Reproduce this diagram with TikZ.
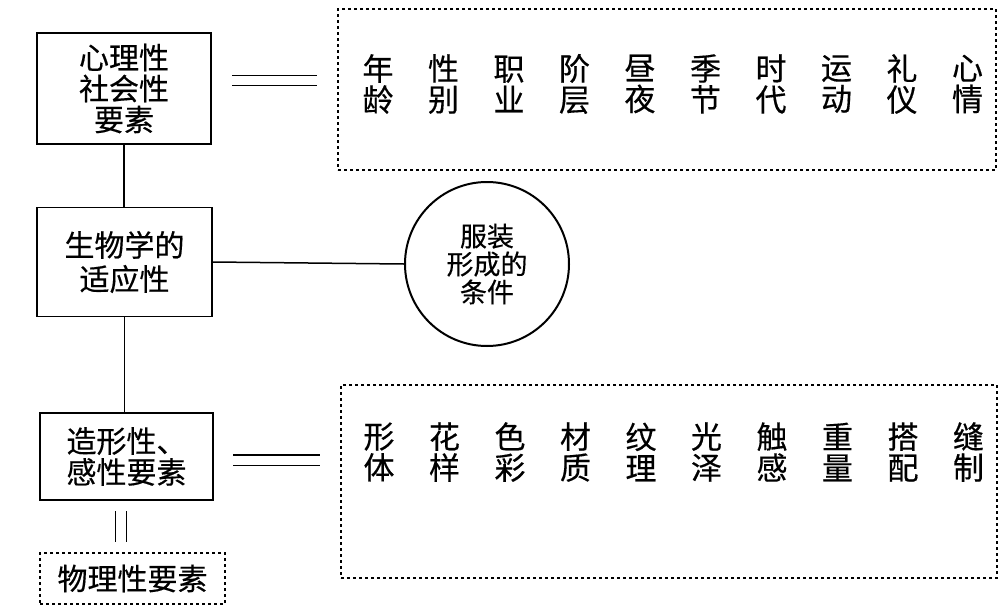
\documentclass[tikz,border=0pt]{standalone}
\usepackage{fontspec}
\setmainfont{Noto Sans CJK SC}[FakeBold=0.4]
\begin{document}
\begin{tikzpicture}[x=1pt,y=-1pt,line width=1.5pt,
  box/.style={draw,rectangle,inner sep=0pt,align=center,font=\fontsize{30}{31}\selectfont},
  dbox/.style={draw,rectangle,inner sep=0pt,align=center,dash pattern=on 3pt off 3pt,line width=1.3pt},
  col/.style={inner sep=0pt,align=center,font=\fontsize{31}{31}\selectfont},
  link/.style={line width=1.5pt},
  eq/.style={double,double distance=9pt,line width=1.4pt}]
\useasboundingbox (0,0) rectangle (999,608);
% left column boxes
\node[box,minimum width=174pt,minimum height=111pt] (b1) at (124,88.5) {心理性\\社会性\\要素};
\node[box,minimum width=175pt,minimum height=109pt,font=\fontsize{30}{34}\selectfont] (b2) at (124.5,262) {生物学的\\适应性};
\node[box,minimum width=173pt,minimum height=87pt] (b3) at (126.5,456.5) {造形性、\\感性要素};
\node[dbox,minimum width=185pt,minimum height=51pt,font=\fontsize{30}{31}\selectfont] (phys) at (132.5,578.5) {物理性要素};
% circle
\node[draw,circle,minimum size=164pt,inner sep=0pt,line width=2pt,align=center,font=\fontsize{27}{28}\selectfont] (circ) at (487,264) {服装\\形成的\\条件};
% right dashed boxes
\node[dbox,minimum width=658pt,minimum height=161pt] (top) at (667,89.5) {};
\node[dbox,minimum width=656pt,minimum height=193pt] (bot) at (669,481.5) {};
\foreach \a/\b [count=\i from 0] in {年/龄,性/别,职/业,阶/层,昼/夜,季/节,时/代,运/动,礼/仪,心/情}
  \node[col] (t\i) at ({378+65.5*\i},84) {\a\\\b};
\foreach \a/\b [count=\i from 0] in {形/体,花/样,色/彩,材/质,纹/理,光/泽,触/感,重/量,搭/配,缝/制}
  \node[col] (s\i) at ({379+65.5*\i},452) {\a\\\b};
% connectors
\draw[link] (b1.south) -- (b1.south |- b2.north);
\draw[link] (b2.south) -- (b2.south |- b3.north);
\draw[link] (b2.east) -- (circ.west);
\coordinate (e1a) at (232,80.5);
\coordinate (e1b) at (317,80.5);
\draw[eq] (e1a) -- (e1b);
\coordinate (e2a) at (233,460);
\coordinate (e2b) at (320,460);
\draw[eq] (e2a) -- (e2b);
\coordinate (e3a) at (121,511);
\coordinate (e3b) at (121,542);
\draw[eq,double distance=9.5pt] (e3a) -- (e3b);
\end{tikzpicture}
\end{document}
